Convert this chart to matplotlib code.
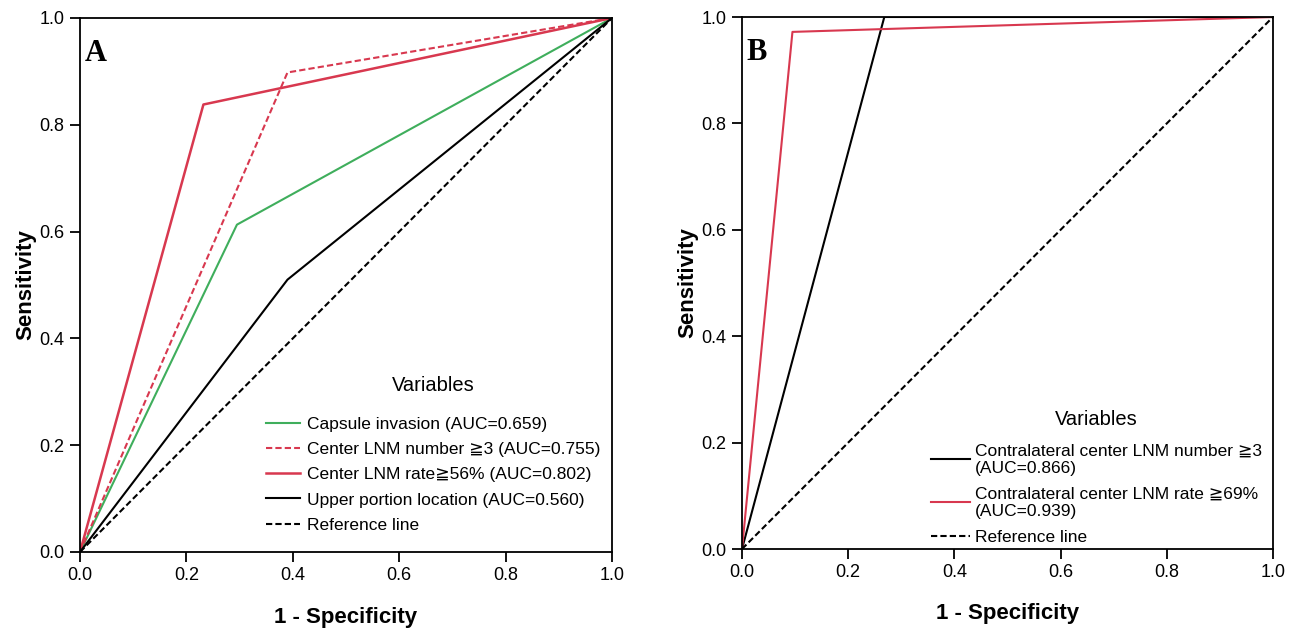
import matplotlib
matplotlib.use("Agg")
import matplotlib.pyplot as plt

plt.rcParams['font.family'] = ['Liberation Sans', 'DejaVu Sans']

# Panel A data: (1 - specificity, sensitivity) points
capsule_x = [0.0, 0.295, 1.0]
capsule_y = [0.0, 0.613, 1.0]
num3_x = [0.0, 0.39, 1.0]
num3_y = [0.0, 0.898, 1.0]
rate56_x = [0.0, 0.232, 1.0]
rate56_y = [0.0, 0.838, 1.0]
upper_x = [0.0, 0.39, 1.0]
upper_y = [0.0, 0.51, 1.0]

# Panel B data
contra_num_x = [0.0, 0.268, 1.0]
contra_num_y = [0.0, 1.0, 1.0]
contra_rate_x = [0.0, 0.095, 1.0]
contra_rate_y = [0.0, 0.972, 1.0]

ref_line = [0.0, 1.0]
ticks = [0.0, 0.2, 0.4, 0.6, 0.8, 1.0]
tick_labels = ["0.0", "0.2", "0.4", "0.6", "0.8", "1.0"]

green = "#3fae5c"
red = "#d8384f"

fig = plt.figure(figsize=(12.91, 6.32), dpi=100)
axA = fig.add_axes([80 / 1291, 1 - 552 / 632, 532 / 1291, 534 / 632])
axB = fig.add_axes([742 / 1291, 1 - 549 / 632, 531 / 1291, 532 / 632])

axA.plot(capsule_x, capsule_y, color=green, lw=1.5, label="Capsule invasion (AUC=0.659)")
axA.plot(num3_x, num3_y, color=red, lw=1.5, ls=(0, (3, 1.5)),
         label="Center LNM number \u22673 (AUC=0.755)")
axA.plot(rate56_x, rate56_y, color=red, lw=1.8, label="Center LNM rate\u226756% (AUC=0.802)")
axA.plot(upper_x, upper_y, color="black", lw=1.5, label="Upper portion location (AUC=0.560)")
axA.plot(ref_line, ref_line, color="black", lw=1.5, ls=(0, (3, 1.5)), label="Reference line")

axB.plot(contra_num_x, contra_num_y, color="black", lw=1.5,
         label="Contralateral center LNM number \u22673\n(AUC=0.866)")
axB.plot(contra_rate_x, contra_rate_y, color=red, lw=1.5,
         label="Contralateral center LNM rate \u226769%\n(AUC=0.939)")
axB.plot(ref_line, ref_line, color="black", lw=1.5, ls=(0, (3, 1.5)), label="Reference line")

for ax, letter in [(axA, "A"), (axB, "B")]:
    ax.set_xlim(0, 1)
    ax.set_ylim(0, 1)
    ax.set_xticks(ticks)
    ax.set_xticklabels(tick_labels)
    ax.set_yticks(ticks)
    ax.set_yticklabels(tick_labels)
    ax.tick_params(direction="out", length=7, width=1.3, labelsize=13, pad=4)
    for s in ax.spines.values():
        s.set_linewidth(1.3)
    ax.set_xlabel("1 - Specificity", fontsize=16, fontweight="bold", labelpad=16)
    ax.set_ylabel("Sensitivity", fontsize=16, fontweight="bold", labelpad=2)
    ax.text(0.008, 0.96, letter, transform=ax.transAxes, fontsize=22,
            family="Liberation Serif", fontweight="bold", va="top", ha="left")

legA = axA.legend(loc="lower right", bbox_to_anchor=(1.005, 0.01), title="Variables",
                  frameon=False, fontsize=12.5, title_fontsize=14.5, handlelength=2.0,
                  handletextpad=0.4, labelspacing=0.58, borderpad=0.3)
legA._legend_box.sep = 16
legB = axB.legend(loc="lower right", bbox_to_anchor=(1.005, -0.018), title="Variables",
                  frameon=False, fontsize=12.5, title_fontsize=14.5, handlelength=2.2,
                  handletextpad=0.3, labelspacing=0.62, borderpad=0.3)
legB._legend_box.sep = 10

fig.savefig("out.png", dpi=100, facecolor="white")
